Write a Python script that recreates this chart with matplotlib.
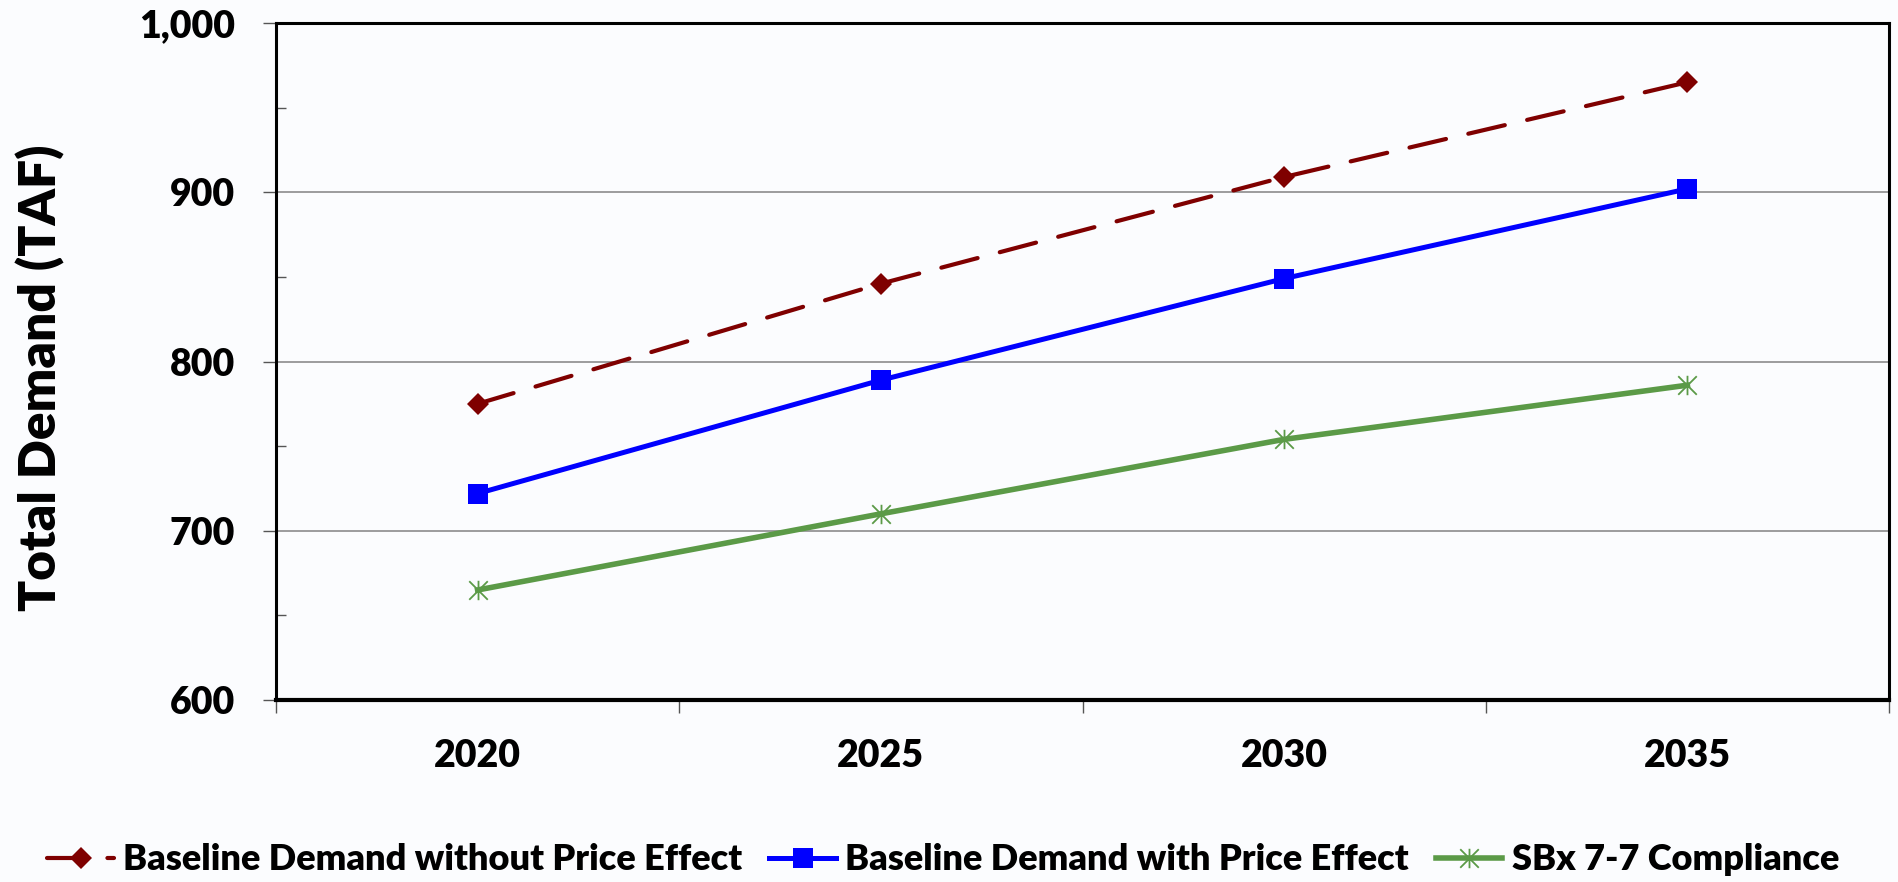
import matplotlib
matplotlib.use("Agg")
import matplotlib.pyplot as plt
from matplotlib.path import Path
from matplotlib.ticker import MultipleLocator, FixedLocator, FuncFormatter

years = ["2020", "2025", "2030", "2035"]
no_price = [775, 846, 909, 965]
with_price = [722, 789, 849, 902]
sbx = [665, 710, 754, 786]
labels = ["Baseline Demand without Price Effect",
          "Baseline Demand with Price Effect",
          "SBx 7-7 Compliance"]

plt.rcParams['font.family'] = ['Lato', 'DejaVu Sans']
plt.rcParams['font.weight'] = 'bold'

bg = '#fbfcfe'
fig = plt.figure(figsize=(18.98, 8.82), dpi=100, facecolor=bg)
ax = fig.add_axes([276/1898, 1-700/882, (1889-276)/1898, (700-23)/882])
ax.set_facecolor(bg)

x = list(range(len(years)))

asterisk = Path([(-1, -1), (1, 1), (-1, 1), (1, -1), (0, -1.05), (0, 1.05)],
                [Path.MOVETO, Path.LINETO, Path.MOVETO, Path.LINETO, Path.MOVETO, Path.LINETO])

ax.plot(x, no_price, color='#7f0000', lw=3.0, dashes=(9, 5.5), dash_capstyle='round',
        marker='D', markersize=11, markeredgewidth=0, label=labels[0], zorder=3)
ax.plot(x, with_price, color='#0000ff', lw=3.6,
        marker='s', markersize=15, markeredgewidth=0, label=labels[1], zorder=3)
ax.plot(x, sbx, color='#5b9a47', lw=4.0,
        marker=asterisk, markersize=14, markeredgewidth=1.3, markeredgecolor='#5b9a47',
        markerfacecolor='none', label=labels[2], zorder=3)

ax.set_xlim(-0.5, len(years) - 0.5)
ax.set_ylim(600, 1000)

# y axis
ax.yaxis.set_major_locator(MultipleLocator(100))
ax.yaxis.set_minor_locator(MultipleLocator(50))
ax.yaxis.set_major_formatter(FuncFormatter(lambda v, p: f"{int(v):,}"))
ax.tick_params(axis='y', which='major', direction='out', length=9.4, width=1.0,
               color='#555555', labelsize=27, pad=20)
ax.tick_params(axis='y', which='minor', direction='in', length=7, width=1.0, color='#555555')
ax.grid(axis='y', which='major', color='#8c8c8c', lw=1.2, zorder=0)
ax.set_axisbelow(True)

# x axis (categorical, ticks between categories)
ax.xaxis.set_major_locator(FixedLocator(x))
ax.set_xticklabels(years)
ax.xaxis.set_minor_locator(FixedLocator([i - 0.5 for i in range(len(years) + 1)]))
ax.tick_params(axis='x', which='major', length=0, labelsize=27, pad=28)
ax.tick_params(axis='x', which='minor', direction='out', length=9.4, width=1.0, color='#555555')
for lab in ax.get_xticklabels() + ax.get_yticklabels():
    lab.set_fontweight('heavy')

for s in ['left', 'right', 'top']:
    ax.spines[s].set_linewidth(2.2)
    ax.spines[s].set_color('black')
ax.spines['bottom'].set_linewidth(3.0)
ax.spines['bottom'].set_color('black')

fig.text(40/1898, 1-378/882, "Total Demand (TAF)", rotation=90, ha='center', va='center',
         fontsize=37, fontweight='heavy')

leg = fig.legend(loc='center', bbox_to_anchor=(943/1898, 1-860/882), ncol=3, frameon=False,
                 handlelength=1.85, handletextpad=0.25, columnspacing=0.75,
                 prop={'weight': 'heavy', 'size': 26})

fig.savefig("out.png", dpi=100, facecolor=bg)
